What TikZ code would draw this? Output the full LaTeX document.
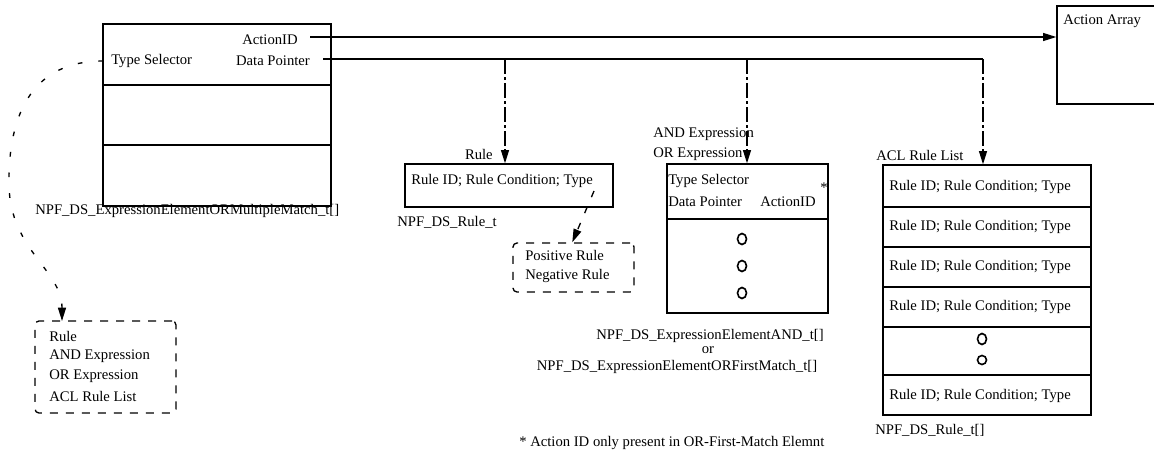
\documentclass[tikz,border=0pt]{standalone}
\usepackage{fontspec}
\setmainfont{Liberation Serif}
\usetikzlibrary{arrows.meta,calc,fit}
\tikzset{
  lbl/.style={inner sep=0pt, font=\fontsize{11}{13}\selectfont},
  box/.style={draw, line width=1pt, inner sep=0pt},
  optbox/.style={draw, line width=1pt, inner sep=0pt, rounded corners=3pt, dash pattern=on 6pt off 6pt},
  divider/.style={line width=1pt},
  ptr/.style={line width=1pt},
  tip/.style={-{Triangle[length=10pt,width=6pt]}},
  dashdot/.style={line width=1pt, dash pattern=on 11pt off 2.5pt on 2pt off 2.5pt},
  sel/.style={line width=1pt, dash pattern=on 3.5pt off 12pt},
  seldash/.style={line width=1pt, dash pattern=on 5pt off 8pt},
  dots/.style={line width=1.2pt},
}
\begin{document}
\begin{tikzpicture}[x=0.75pt, y=-0.75pt]
\useasboundingbox (0,0) rectangle (1154,457);
\clip (0,0) rectangle (1154,457);

% ---- OR multiple-match element array ----
\node (mm) [box, fit={(103,24) (331,206)}] {};
\draw[divider] (mm.west |- 0,85) -- (mm.east |- 0,85);
\draw[divider] (mm.west |- 0,145) -- (mm.east |- 0,145);
\node (mmaid) [lbl] at (270,40) {ActionID};
\node (mmdp)  [lbl] at (273,61) {Data Pointer};
\node (mmts)  [lbl, anchor=west] at (111,61) {Type Selector};
\node (mmcap) [lbl, anchor=west] at (35,211) {NPF\_DS\_ExpressionElementORMultipleMatch\_t[]};

% ---- Action array ----
\node (aa) [box, fit={(1057,6) (1160,104)}] {};
\node (aatxt) [lbl, anchor=west] at (1063,21) {Action Array};

% ---- Rule ----
\node (rule) [box, fit={(405,164) (613,207)}] {};
\node (ruletxt) [lbl, anchor=west] at (411,181) {Rule ID; Rule Condition; Type};
\node (rulehd) [lbl, anchor=east] at (493,154) {Rule};
\node (rulecap) [lbl, anchor=west] at (397,222) {NPF\_DS\_Rule\_t};

% ---- Rule polarity ----
\node (pn) [optbox, fit={(513,243) (634,292)}] {};
\node (pos) [lbl, anchor=west] at (525,255) {Positive Rule};
\node (neg) [lbl, anchor=west] at (525,276) {Negative Rule};

% ---- AND / OR-first-match element array ----
\node (ex) [box, fit={(667,164) (828,313)}] {};
\draw[divider] (ex.west |- 0,219) -- (ex.east |- 0,219);
\node (exhd1) [lbl, anchor=west] at (653,134) {AND Expression};
\node (exhd2) [lbl, anchor=west] at (653,154) {OR Expression};
\node (exts) [lbl, anchor=west] at (668,181) {Type Selector};
\node (exdp) [lbl, anchor=west] at (668,202) {Data Pointer};
\node (exaid) [lbl] at (788,202) {ActionID};
\node (exstar) [lbl] at (824,188) {*};
\foreach \y in {239,266,293} \draw[dots] (742,\y) ellipse [x radius=4.5, y radius=5.5];
\node (excap1) [lbl] at (710,336) {NPF\_DS\_ExpressionElementAND\_t[]};
\node (excap2) [lbl] at (708,350) {or};
\node (excap3) [lbl] at (677,367) {NPF\_DS\_ExpressionElementORFirstMatch\_t[]};

% ---- ACL rule list ----
\node (acl) [box, fit={(883,165) (1091,415)}] {};
\foreach \y in {207,247,287,327,375}
  \draw[divider] (acl.west |- 0,\y) -- (acl.east |- 0,\y);
\foreach \y [count=\i] in {187,227,267,307,396}
  \node (aclrow\i) [lbl, anchor=west] at (889,\y) {Rule ID; Rule Condition; Type};
\draw[dots] (982,339) ellipse [x radius=4.5, y radius=5.5];
\draw[dots] (982,360) ellipse [x radius=4.5, y radius=4.5];
\node (aclhd) [lbl, anchor=west] at (876,155) {ACL Rule List};
\node (aclcap) [lbl, anchor=west] at (875,430) {NPF\_DS\_Rule\_t[]};

% ---- element kinds ----
\node (kind) [optbox, fit={(35,321) (176,413)}] {};
\node (kind1) [lbl, anchor=west] at (49,336) {Rule};
\node (kind2) [lbl, anchor=west] at (49,356) {AND Expression};
\node (kind3) [lbl, anchor=west] at (49,376) {OR Expression};
\node (kind4) [lbl, anchor=west] at (49,396) {ACL Rule List};

% ---- footnote ----
\node (note) [lbl, anchor=west] at (519,443) {* Action ID only present in OR-First-Match Elemnt};

% ---- connectors ----
\coordinate (aidout) at (310,37);
\draw[ptr, tip] (aidout) -- (aa.west |- aidout);

\coordinate (dpout) at (323,59);
\coordinate (j1) at (505,59);
\coordinate (j2) at (747,59);
\coordinate (j3) at (983,59);
\draw[ptr] (dpout) -- (j3);
\draw[dashdot, tip] (j1) -- (j1 |- rule.north);
\draw[dashdot, tip] (j2) -- (j2 |- ex.north);
\draw[dashdot, tip] (j3) -- (j3 |- acl.north);

\coordinate (tsout) at (103,61);
\coordinate (kindin) at (62,321);
\draw[sel, tip] (tsout) .. controls (35,61) and (8,110) .. (9,185)
                        .. controls (10,250) and (62,270) .. (kindin);

\coordinate (rtype) at (594,191);
\draw[seldash, tip] (rtype) -- ($(pn.north west)!0.49!(pn.north east)$);
\end{tikzpicture}
\end{document}
